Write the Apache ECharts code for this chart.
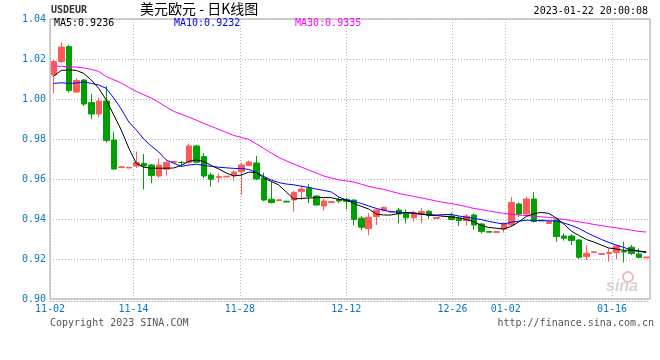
<!DOCTYPE html>
<html><head><meta charset="utf-8">
<script src="https://cdn.jsdelivr.net/npm/echarts@6/dist/echarts.min.js"></script>
<style>html,body{margin:0;padding:0;background:#fff}#c{width:660px;height:360px}</style>
</head><body><div id="c"></div>
<script>
// ---- data ----
const startDate = '2022-11-03';
const opens  = [1.0120,1.0187,1.0262,1.0035,1.0095,0.9982,0.9925,0.9990,0.9795,0.9657,
                0.9655,0.9665,0.9678,0.9670,0.9615,0.9649,0.9683,0.9683,0.9684,0.9765,
                0.9712,0.9620,0.9607,0.9610,0.9617,0.9637,0.9667,0.9680,0.9604,0.9499,
                0.9492,0.9489,0.9495,0.9537,0.9554,0.9515,0.9465,0.9483,0.9497,0.9498,
                0.9495,0.9404,0.9352,0.9412,0.9442,0.9435,0.9445,0.9429,0.9406,0.9428,
                0.9438,0.9403,0.9412,0.9415,0.9404,0.9392,0.9420,0.9375,0.9337,0.9333,
                0.9349,0.9370,0.9475,0.9425,0.9500,0.9394,0.9378,0.9395,0.9315,0.9315,
                0.9295,0.9212,0.9232,0.9223,0.9228,0.9232,0.9237,0.9259,0.9225,0.9206];
const closes = [1.0187,1.0260,1.0042,1.0092,0.9975,0.9925,0.9990,0.9792,0.9650,0.9661,
                0.9659,0.9682,0.9665,0.9617,0.9670,0.9683,0.9687,0.9682,0.9765,0.9684,
                0.9615,0.9599,0.9612,0.9614,0.9635,0.9670,0.9685,0.9600,0.9495,0.9482,
                0.9496,0.9485,0.9532,0.9550,0.9512,0.9470,0.9490,0.9487,0.9490,0.9488,
                0.9398,0.9359,0.9409,0.9445,0.9458,0.9438,0.9425,0.9406,0.9432,0.9438,
                0.9417,0.9407,0.9413,0.9398,0.9392,0.9415,0.9370,0.9337,0.9334,0.9337,
                0.9379,0.9482,0.9425,0.9500,0.9387,0.9391,0.9387,0.9312,0.9304,0.9292,
                0.9209,0.9228,0.9236,0.9227,0.9232,0.9265,0.9235,0.9228,0.9208,0.9210];
const lows   = [1.0029,1.0180,1.0032,1.0029,0.9965,0.9899,0.9909,0.9782,0.9645,0.9657,
                0.9655,0.9654,0.9548,0.9579,0.9607,0.9617,0.9683,0.9670,0.9675,0.9682,
                0.9604,0.9562,0.9582,0.9610,0.9590,0.9520,0.9667,0.9595,0.9490,0.9478,
                0.9492,0.9485,0.9437,0.9495,0.9479,0.9467,0.9442,0.9483,0.9480,0.9448,
                0.9368,0.9345,0.9319,0.9370,0.9438,0.9435,0.9378,0.9378,0.9387,0.9378,
                0.9401,0.9403,0.9412,0.9395,0.9365,0.9367,0.9345,0.9328,0.9334,0.9333,
                0.9332,0.9362,0.9409,0.9415,0.9382,0.9391,0.9375,0.9287,0.9292,0.9270,
                0.9199,0.9195,0.9232,0.9223,0.9187,0.9199,0.9182,0.9220,0.9203,0.9206];
const highs  = [1.0195,1.0283,1.0270,1.0104,1.0100,1.0025,1.0007,1.0065,0.9837,0.9661,
                0.9659,0.9737,0.9725,0.9675,0.9704,0.9690,0.9687,0.9690,0.9778,0.9770,
                0.9729,0.9632,0.9628,0.9614,0.9645,0.9682,0.9692,0.9715,0.9632,0.9587,
                0.9496,0.9489,0.9540,0.9567,0.9574,0.9520,0.9500,0.9487,0.9510,0.9506,
                0.9498,0.9415,0.9429,0.9449,0.9462,0.9438,0.9455,0.9449,0.9441,0.9456,
                0.9445,0.9407,0.9413,0.9432,0.9412,0.9425,0.9428,0.9381,0.9337,0.9337,
                0.9382,0.9509,0.9482,0.9512,0.9534,0.9394,0.9392,0.9397,0.9328,0.9325,
                0.9300,0.9270,0.9236,0.9227,0.9253,0.9270,0.9287,0.9270,0.9253,0.9210];
const ma5  = [1.0115,1.0143,1.0145,1.0143,1.0128,1.0095,1.0053,0.9995,0.9920,0.9845,
              0.9755,0.9678,0.9659,0.9654,0.9654,0.9654,0.9655,0.9668,0.9688,0.9695,
              0.9688,0.9668,0.9650,0.9630,0.9615,0.9620,0.9634,0.9633,0.9605,0.9588,
              0.9570,0.9535,0.9500,0.9503,0.9505,0.9507,0.9507,0.9507,0.9498,0.9495,
              0.9478,0.9463,0.9450,0.9425,0.9420,0.9420,0.9428,0.9432,0.9430,0.9424,
              0.9420,0.9417,0.9414,0.9411,0.9406,0.9398,0.9386,0.9368,0.9358,0.9354,
              0.9350,0.9363,0.9385,0.9413,0.9426,0.9433,0.9428,0.9405,0.9375,0.9340,
              0.9318,0.9298,0.9285,0.9270,0.9255,0.9250,0.9243,0.9245,0.9240,0.9236];
const ma10 = [1.0078,1.0081,1.0078,1.0080,1.0086,1.0078,1.0070,1.0053,1.0005,0.9950,
              0.9885,0.9845,0.9800,0.9765,0.9735,0.9695,0.9679,0.9663,0.9670,0.9674,
              0.9668,0.9663,0.9659,0.9656,0.9653,0.9652,0.9648,0.9633,0.9613,0.9595,
              0.9582,0.9575,0.9571,0.9564,0.9558,0.9550,0.9543,0.9535,0.9510,0.9495,
              0.9488,0.9478,0.9465,0.9453,0.9444,0.9436,0.9434,0.9432,0.9428,0.9424,
              0.9422,0.9420,0.9422,0.9423,0.9415,0.9409,0.9403,0.9397,0.9388,0.9381,
              0.9375,0.9384,0.9389,0.9394,0.9393,0.9392,0.9391,0.9390,0.9380,0.9368,
              0.9353,0.9333,0.9315,0.9298,0.9283,0.9270,0.9258,0.9245,0.9238,0.9232];
const ma30 = [1.0165,1.0163,1.0162,1.0160,1.0155,1.0148,1.0138,1.0112,1.0096,1.0080,
              1.0058,1.0038,1.0021,1.0005,0.9983,0.9960,0.9938,0.9924,0.9910,0.9894,
              0.9878,0.9863,0.9848,0.9833,0.9818,0.9808,0.9798,0.9776,0.9753,0.9730,
              0.9708,0.9691,0.9675,0.9660,0.9645,0.9630,0.9615,0.9605,0.9596,0.9591,
              0.9585,0.9574,0.9563,0.9555,0.9548,0.9538,0.9528,0.9520,0.9513,0.9505,
              0.9498,0.9490,0.9483,0.9477,0.9470,0.9462,0.9453,0.9447,0.9440,0.9434,
              0.9428,0.9424,0.9420,0.9417,0.9414,0.9411,0.9408,0.9403,0.9398,0.9392,
              0.9386,0.9380,0.9373,0.9367,0.9361,0.9356,0.9350,0.9344,0.9338,0.9335];
const xTickDays   = [0, 11, 25, 39, 53, 60, 74];
const xTickLabels = ['11-02','11-14','11-28','12-12','12-26','01-02','01-16'];
const yMin = 0.90, yMax = 1.04, yStep = 0.02;
const symbolName = 'USDEUR';
const titleText = '美元欧元 - 日K线图';
const stampText = '2023-01-22 20:00:08';

// ---- build ----
const categories = [];
{
  const d0 = new Date(startDate + 'T00:00:00Z');
  for (let i = 0; i < opens.length; i++) {
    const d = new Date(d0.getTime() + i * 86400000);
    categories.push(String(d.getUTCMonth() + 1).padStart(2, '0') + '-' + String(d.getUTCDate()).padStart(2, '0'));
  }
}
const kData = opens.map((o, i) => [o, closes[i], lows[i], highs[i]]);
const last = a => a[a.length - 1].toFixed(4);

const MONO = '"DejaVu Sans Mono", monospace';
const BLUE = '#0a78c8';
const chart = echarts.init(document.getElementById('c'), null, {renderer: 'canvas'});
chart.setOption({
  animation: false,
  backgroundColor: '#fff',
  grid: {left: 50, top: 19, width: 600, height: 280, show: true, borderColor: '#a0a0a0', borderWidth: 1, backgroundColor: 'transparent'},
  xAxis: [{
    type: 'category', data: categories, boundaryGap: true, gridIndex: 0,
    axisLine: {show: true, onZero: false, lineStyle: {color: '#b0b0b0', type: [1, 2], width: 1}},
    offset: 2,
    axisTick: {show: false}, axisLabel: {show: false}, splitLine: {show: false}
  }, {
    type: 'value', min: 0, max: opens.length - 1, position: 'bottom', gridIndex: 0,
    axisLine: {show: false},
    axisTick: {show: false, customValues: xTickDays},
    axisLabel: {show: true, customValues: xTickDays, color: BLUE, fontFamily: MONO, fontSize: 10, margin: 5,
      formatter: v => xTickLabels[xTickDays.indexOf(Math.round(v))] || ''},
    splitLine: {show: true, lineStyle: {color: '#b4b4b4', type: [1, 2], width: 1}}
  }],
  yAxis: {
    type: 'value', min: yMin, max: yMax, interval: yStep, scale: true,
    axisLine: {show: false}, axisTick: {show: false},
    axisLabel: {color: BLUE, fontFamily: MONO, fontSize: 10, margin: 4, padding: [0, 0, 4, 0],
      formatter: v => v.toFixed(2)},
    splitLine: {show: true, lineStyle: {color: '#b4b4b4', type: [1, 2], width: 1}}
  },
  series: [{
    type: 'candlestick', name: 'K', data: kData, xAxisIndex: 0, barWidth: 6,
    itemStyle: {color: '#ff5a5a', color0: '#00a000', borderColor: '#ff5a5a', borderColor0: '#00a000', borderColorDoji: '#ff5a5a', borderWidth: 1}
  }, {
    type: 'line', name: 'MA30', data: ma30, xAxisIndex: 0, symbol: 'none', lineStyle: {color: '#ff00ff', width: 1}, z: 3
  }, {
    type: 'line', name: 'MA10', data: ma10, xAxisIndex: 0, symbol: 'none', lineStyle: {color: '#0000ff', width: 1}, z: 3
  }, {
    type: 'line', name: 'MA5', data: ma5, xAxisIndex: 0, symbol: 'none', lineStyle: {color: '#000000', width: 1}, z: 3
  }],
  graphic: [
    {type: 'text', left: 51, top: 5, style: {text: symbolName, font: 'bold 10px ' + MONO, fill: '#333'}},
    {type: 'text', left: 140, top: 2, style: {text: titleText, font: '14px "Noto Sans CJK SC", sans-serif', fill: '#000'}},
    {type: 'text', right: 12, top: 6, style: {text: stampText, font: '10px ' + MONO, fill: '#000'}},
    {type: 'text', left: 54, top: 18, style: {text: 'MA5:' + last(ma5), font: '10px ' + MONO, fill: '#000'}, z: 10},
    {type: 'text', left: 174, top: 18, style: {text: 'MA10:' + last(ma10), font: '10px ' + MONO, fill: '#0000ff'}, z: 10},
    {type: 'text', left: 295, top: 18, style: {text: 'MA30:' + last(ma30), font: '10px ' + MONO, fill: '#ff00ff'}, z: 10},
    {type: 'text', left: 50, top: 318, style: {text: 'Copyright 2023 SINA.COM', font: '10px ' + MONO, fill: '#555'}},
    {type: 'text', right: 6, top: 318, style: {text: 'http://finance.sina.com.cn', font: '10px ' + MONO, fill: '#555'}},
    {type: 'circle', shape: {cx: 628, cy: 277, r: 5}, style: {fill: 'none', stroke: '#f0b8b8', lineWidth: 2}, z: 1},
    {type: 'text', left: 606, top: 279, style: {text: 'sina', font: 'italic bold 16px "Liberation Sans", sans-serif', fill: '#d4d4d4'}, z: 1}
  ]
});
</script>
</body></html>
